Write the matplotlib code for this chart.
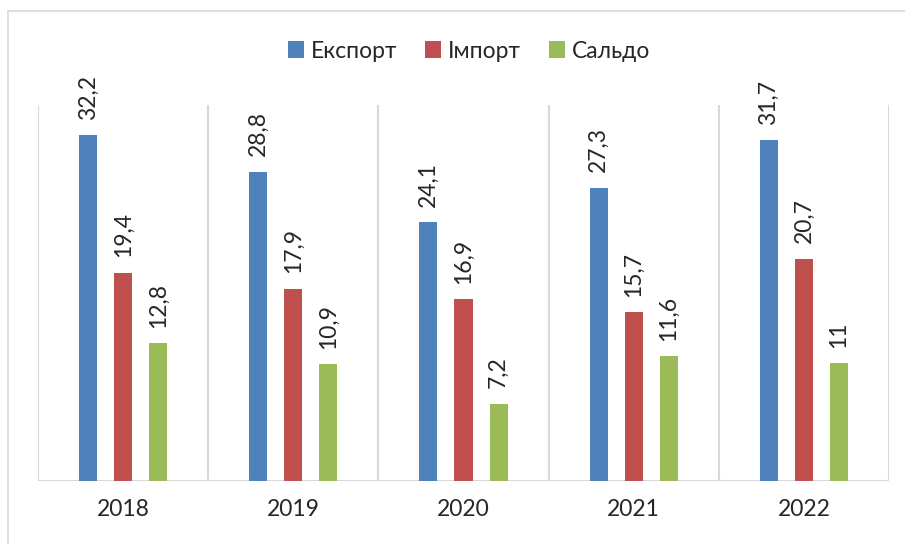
import matplotlib
matplotlib.use("Agg")
import matplotlib.pyplot as plt
import numpy as np

years = ['2018', '2019', '2020', '2021', '2022']
series = ['Експорт', 'Імпорт', 'Сальдо']
export = [32.2, 28.8, 24.1, 27.3, 31.7]
imports = [19.4, 17.9, 16.9, 15.7, 20.7]
saldo = [12.8, 10.9, 7.2, 11.6, 11]
colors = ['#4F81BD', '#C0504D', '#9BBB59']


def fmt(v):
    return ('%g' % v).replace('.', ',')


def main():
    plt.rcParams['font.family'] = ['Lato', 'DejaVu Sans']
    W, H = 905, 544
    fig = plt.figure(figsize=(W / 100, H / 100), dpi=100)

    # outer chart frame
    fig.add_artist(plt.Rectangle((8 / W, -0.1), 1.0, 1 - 11 / H + 0.1,
                                 transform=fig.transFigure, fill=False,
                                 edgecolor='#d9d9d9', linewidth=1.2))

    ax = fig.add_axes([38 / W, (H - 481) / H, (889 - 38) / W, (481 - 105) / H])
    x = np.arange(len(years))
    step = 0.206
    width = 0.106
    data = [export, imports, saldo]
    bars = []
    for k, (vals, col, name) in enumerate(zip(data, colors, series)):
        b = ax.bar(x + (k - 1) * step, vals, width, color=col, label=name, zorder=3)
        bars.append(b)
        for rect, v in zip(b, vals):
            ax.annotate(fmt(v), (rect.get_x() + rect.get_width() / 2, v),
                        xytext=(0, 11), textcoords='offset points',
                        rotation=90, ha='center', va='bottom',
                        fontsize=16.5, color='#262626')

    ax.set_xlim(-0.5, len(years) - 0.5)
    ax.set_ylim(0, 35)
    for b in np.arange(-0.5, len(years), 1):
        ax.axvline(b, color='#d9d9d9', linewidth=1.5, zorder=1)
    for s in ax.spines.values():
        s.set_visible(False)
    ax.axhline(0, color='#d9d9d9', linewidth=1.5, zorder=2)
    ax.set_yticks([])
    ax.set_xticks(x)
    ax.set_xticklabels(years, fontsize=16.5, color='#262626')
    ax.tick_params(axis='x', length=0, pad=13)

    fig.legend(handles=bars, labels=series, loc='center',
               bbox_to_anchor=(469 / W, 1 - 51 / H), ncol=3, frameon=False,
               fontsize=16.5, handlelength=0.7, handleheight=0.7,
               handletextpad=0.3, columnspacing=1.2, labelcolor='#262626')

    fig.savefig('out.png', dpi=100)


if __name__ == "__main__":
    main()
